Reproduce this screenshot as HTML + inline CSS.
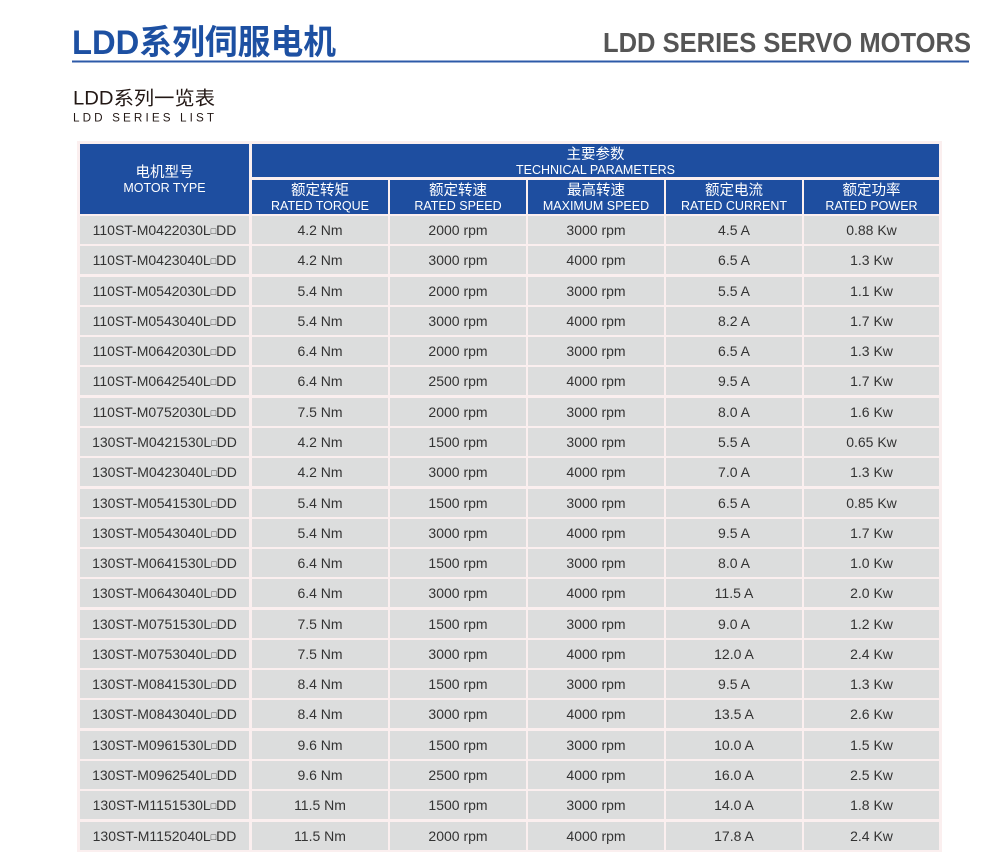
<!DOCTYPE html>
<html><head><meta charset="utf-8">
<style>
html,body{margin:0;padding:0;background:#fff;}
body{width:1005px;height:852px;position:relative;overflow:hidden;font-family:"Liberation Sans","Noto Sans CJK SC",sans-serif;}
.abs{position:absolute;}
.frame{position:absolute;left:77px;top:141px;width:865px;height:711px;background:#fbefef;}
.blue{position:absolute;background:#1e4ea0;color:#fff;}
.row{position:absolute;left:0;width:1005px;height:28px;}
.row div{position:absolute;top:0;height:28px;line-height:28px;background:#dcdddd;color:#333;font-size:14px;text-align:center;white-space:nowrap;}
.c1{left:80px;width:169px;}
.c2{left:252px;width:136px;}
.c3{left:390px;width:136px;}
.c4{left:528px;width:136px;}
.c5{left:666px;width:136px;}
.c6{left:804px;width:135px;}
.b{font-size:9px;position:relative;top:-1px;}
.cn{position:absolute;left:0;right:0;text-align:center;font-size:14.5px;line-height:16px;}
.en{position:absolute;left:0;right:0;text-align:center;font-size:12.5px;line-height:14px;}
</style></head><body>

<svg class="abs" style="left:0;top:0" width="1005" height="130">
  <text x="72" y="54" font-family="Liberation Sans, Noto Sans CJK SC, sans-serif" font-weight="bold" font-size="34" fill="#1d50a2" textLength="264" lengthAdjust="spacingAndGlyphs">LDD系列伺服电机</text>
  <text x="603" y="52" font-family="Liberation Sans, sans-serif" font-weight="bold" font-size="28" fill="#555555" textLength="368" lengthAdjust="spacingAndGlyphs">LDD SERIES SERVO MOTORS</text>
  <rect x="72" y="60.5" width="897" height="2" fill="#2d5aa8"/>
  <text x="73" y="104.5" font-family="Liberation Sans, Noto Sans CJK SC, sans-serif" font-size="19" fill="#231815" textLength="142" lengthAdjust="spacingAndGlyphs">LDD系列一览表</text>
  <text x="73" y="121.7" font-family="Liberation Sans, sans-serif" font-size="11.7" fill="#231815" textLength="141" lengthAdjust="spacing">LDD SERIES LIST</text>
</svg>

<div class="frame"></div>

<div class="blue" style="left:80px;top:144px;width:169px;height:70px;">
  <div class="cn" style="top:21px;">电机型号</div>
  <div class="en" style="top:37px;">MOTOR TYPE</div>
</div>
<div class="blue" style="left:252px;top:144px;width:687px;height:33px;">
  <div class="cn" style="top:3px;">主要参数</div>
  <div class="en" style="top:19px;">TECHNICAL PARAMETERS</div>
</div>
<div class="blue" style="left:252px;top:180px;width:136px;height:34px;"><div class="cn" style="top:3px;">额定转矩</div><div class="en" style="top:19px;">RATED TORQUE</div></div>
<div class="blue" style="left:390px;top:180px;width:136px;height:34px;"><div class="cn" style="top:3px;">额定转速</div><div class="en" style="top:19px;">RATED SPEED</div></div>
<div class="blue" style="left:528px;top:180px;width:136px;height:34px;"><div class="cn" style="top:3px;">最高转速</div><div class="en" style="top:19px;">MAXIMUM SPEED</div></div>
<div class="blue" style="left:666px;top:180px;width:136px;height:34px;"><div class="cn" style="top:3px;">额定电流</div><div class="en" style="top:19px;">RATED CURRENT</div></div>
<div class="blue" style="left:804px;top:180px;width:135px;height:34px;"><div class="cn" style="top:3px;">额定功率</div><div class="en" style="top:19px;">RATED POWER</div></div>

<div class="row" style="top:216px"><div class="c1">110ST-M0422030L<span class="b">□</span>DD</div><div class="c2">4.2 Nm</div><div class="c3">2000 rpm</div><div class="c4">3000 rpm</div><div class="c5">4.5 A</div><div class="c6">0.88 Kw</div></div>
<div class="row" style="top:246.28px"><div class="c1">110ST-M0423040L<span class="b">□</span>DD</div><div class="c2">4.2 Nm</div><div class="c3">3000 rpm</div><div class="c4">4000 rpm</div><div class="c5">6.5 A</div><div class="c6">1.3 Kw</div></div>
<div class="row" style="top:276.56px"><div class="c1">110ST-M0542030L<span class="b">□</span>DD</div><div class="c2">5.4 Nm</div><div class="c3">2000 rpm</div><div class="c4">3000 rpm</div><div class="c5">5.5 A</div><div class="c6">1.1 Kw</div></div>
<div class="row" style="top:306.84px"><div class="c1">110ST-M0543040L<span class="b">□</span>DD</div><div class="c2">5.4 Nm</div><div class="c3">3000 rpm</div><div class="c4">4000 rpm</div><div class="c5">8.2 A</div><div class="c6">1.7 Kw</div></div>
<div class="row" style="top:337.12px"><div class="c1">110ST-M0642030L<span class="b">□</span>DD</div><div class="c2">6.4 Nm</div><div class="c3">2000 rpm</div><div class="c4">3000 rpm</div><div class="c5">6.5 A</div><div class="c6">1.3 Kw</div></div>
<div class="row" style="top:367.4px"><div class="c1">110ST-M0642540L<span class="b">□</span>DD</div><div class="c2">6.4 Nm</div><div class="c3">2500 rpm</div><div class="c4">4000 rpm</div><div class="c5">9.5 A</div><div class="c6">1.7 Kw</div></div>
<div class="row" style="top:397.68px"><div class="c1">110ST-M0752030L<span class="b">□</span>DD</div><div class="c2">7.5 Nm</div><div class="c3">2000 rpm</div><div class="c4">3000 rpm</div><div class="c5">8.0 A</div><div class="c6">1.6 Kw</div></div>
<div class="row" style="top:427.96px"><div class="c1">130ST-M0421530L<span class="b">□</span>DD</div><div class="c2">4.2 Nm</div><div class="c3">1500 rpm</div><div class="c4">3000 rpm</div><div class="c5">5.5 A</div><div class="c6">0.65 Kw</div></div>
<div class="row" style="top:458.24px"><div class="c1">130ST-M0423040L<span class="b">□</span>DD</div><div class="c2">4.2 Nm</div><div class="c3">3000 rpm</div><div class="c4">4000 rpm</div><div class="c5">7.0 A</div><div class="c6">1.3 Kw</div></div>
<div class="row" style="top:488.52px"><div class="c1">130ST-M0541530L<span class="b">□</span>DD</div><div class="c2">5.4 Nm</div><div class="c3">1500 rpm</div><div class="c4">3000 rpm</div><div class="c5">6.5 A</div><div class="c6">0.85 Kw</div></div>
<div class="row" style="top:518.8px"><div class="c1">130ST-M0543040L<span class="b">□</span>DD</div><div class="c2">5.4 Nm</div><div class="c3">3000 rpm</div><div class="c4">4000 rpm</div><div class="c5">9.5 A</div><div class="c6">1.7 Kw</div></div>
<div class="row" style="top:549.08px"><div class="c1">130ST-M0641530L<span class="b">□</span>DD</div><div class="c2">6.4 Nm</div><div class="c3">1500 rpm</div><div class="c4">3000 rpm</div><div class="c5">8.0 A</div><div class="c6">1.0 Kw</div></div>
<div class="row" style="top:579.36px"><div class="c1">130ST-M0643040L<span class="b">□</span>DD</div><div class="c2">6.4 Nm</div><div class="c3">3000 rpm</div><div class="c4">4000 rpm</div><div class="c5">11.5 A</div><div class="c6">2.0 Kw</div></div>
<div class="row" style="top:609.64px"><div class="c1">130ST-M0751530L<span class="b">□</span>DD</div><div class="c2">7.5 Nm</div><div class="c3">1500 rpm</div><div class="c4">3000 rpm</div><div class="c5">9.0 A</div><div class="c6">1.2 Kw</div></div>
<div class="row" style="top:639.92px"><div class="c1">130ST-M0753040L<span class="b">□</span>DD</div><div class="c2">7.5 Nm</div><div class="c3">3000 rpm</div><div class="c4">4000 rpm</div><div class="c5">12.0 A</div><div class="c6">2.4 Kw</div></div>
<div class="row" style="top:670.2px"><div class="c1">130ST-M0841530L<span class="b">□</span>DD</div><div class="c2">8.4 Nm</div><div class="c3">1500 rpm</div><div class="c4">3000 rpm</div><div class="c5">9.5 A</div><div class="c6">1.3 Kw</div></div>
<div class="row" style="top:700.48px"><div class="c1">130ST-M0843040L<span class="b">□</span>DD</div><div class="c2">8.4 Nm</div><div class="c3">3000 rpm</div><div class="c4">4000 rpm</div><div class="c5">13.5 A</div><div class="c6">2.6 Kw</div></div>
<div class="row" style="top:730.76px"><div class="c1">130ST-M0961530L<span class="b">□</span>DD</div><div class="c2">9.6 Nm</div><div class="c3">1500 rpm</div><div class="c4">3000 rpm</div><div class="c5">10.0 A</div><div class="c6">1.5 Kw</div></div>
<div class="row" style="top:761.04px"><div class="c1">130ST-M0962540L<span class="b">□</span>DD</div><div class="c2">9.6 Nm</div><div class="c3">2500 rpm</div><div class="c4">4000 rpm</div><div class="c5">16.0 A</div><div class="c6">2.5 Kw</div></div>
<div class="row" style="top:791.32px"><div class="c1">130ST-M1151530L<span class="b">□</span>DD</div><div class="c2">11.5 Nm</div><div class="c3">1500 rpm</div><div class="c4">3000 rpm</div><div class="c5">14.0 A</div><div class="c6">1.8 Kw</div></div>
<div class="row" style="top:821.6px"><div class="c1">130ST-M1152040L<span class="b">□</span>DD</div><div class="c2">11.5 Nm</div><div class="c3">2000 rpm</div><div class="c4">4000 rpm</div><div class="c5">17.8 A</div><div class="c6">2.4 Kw</div></div>

</body></html>
